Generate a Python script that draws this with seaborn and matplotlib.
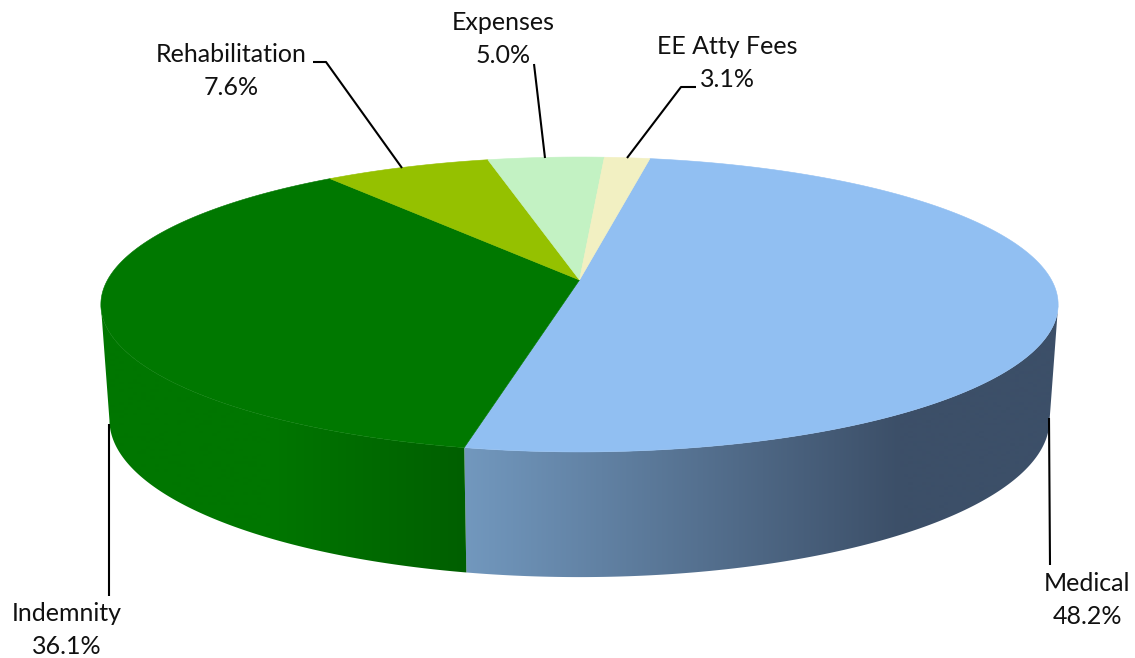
import numpy as np
import matplotlib
matplotlib.use("Agg")
import matplotlib.pyplot as plt
from matplotlib.colors import to_rgb
from matplotlib.patches import Polygon
import seaborn as sns

categories = ["Medical", "Indemnity", "Rehabilitation", "Expenses", "EE Atty Fees"]
printed_pct = [48.2, 36.1, 7.6, 5.0, 3.1]
# angular share each slice occupies as drawn in the picture (the 3-D view skews them)
drawn_share = [50.5, 36.5, 6.6, 4.6, 1.8]
top_colors = ["#91BFF2", "#007800", "#95C100", "#C3F2C3", "#F2F0C2"]
wall_from = ["#7298BE", "#005F00"]
wall_to = ["#3C4F68", "#007600"]
wall_span = [(465, 900), (465, 270)]
label_xy = [(1087, 600), (67, 630), (231, 71), (503, 39), (727, 63)]
leaders = [[(1049, 418), (1050, 565)],
           [(109, 424), (109, 596)],
           [(313, 62), (326, 62), (402, 168)],
           [(534, 64), (545, 158)],
           [(696, 87), (681, 87), (627, 158)]]
START_ANGLE = 80.0
CX = 579.5
K = 0.166

sns.set_theme(style="white")
plt.rcParams["font.family"] = ["Lato", "DejaVu Sans"]


def project(theta_deg, a, b, apex_y):
    t = np.radians(theta_deg)
    d = 1 + K * np.sin(t)
    return CX + a * np.cos(t) / d, apex_y - b * np.sin(t) / d


def top_disk(theta):
    return project(theta, 472.0, 143.4, 280.0)


def bottom_disk(theta):
    return project(theta, 463.5, 152.7, 394.0)


fig, ax = plt.subplots(figsize=(11.35, 6.58), dpi=100)
fig.subplots_adjust(0, 0, 1, 1)
ax.axis("off")

sweeps = np.array(drawn_share) / sum(drawn_share) * 360.0
ends = START_ANGLE - np.cumsum(sweeps)
starts = ends + sweeps

# side wall: the part of the rim facing the viewer, filled with a horizontal gradient
sil_left = 180 + np.degrees(np.arcsin(K))
sil_right = 360 - np.degrees(np.arcsin(K))
for i in range(2):
    thetas = np.linspace(starts[i], ends[i], 400)
    wrapped = thetas % 360
    thetas = thetas[(wrapped >= sil_left) & (wrapped <= sil_right)]
    xa, ya = top_disk(thetas)
    xb, yb = bottom_disk(thetas)
    outline = np.column_stack([np.r_[xa, xb[::-1]], np.r_[ya, yb[::-1]]])
    xgrid = np.arange(0, 1136)
    x0, x1 = wall_span[i]
    f = np.clip((xgrid - x0) / (x1 - x0), 0, 1)[None, :, None]
    c0 = np.array(to_rgb(wall_from[i]))[None, None, :]
    c1 = np.array(to_rgb(wall_to[i]))[None, None, :]
    img = ax.imshow(c0 + (c1 - c0) * f, extent=(0, 1135, 658, 0),
                    aspect="auto", zorder=2, interpolation="bilinear")
    patch = Polygon(outline, closed=True, transform=ax.transData, fc="none", ec="none")
    ax.add_patch(patch)
    img.set_clip_path(patch)

# top face
for i, (s, e) in enumerate(zip(starts, ends)):
    thetas = np.linspace(s, e, 200)
    xs, ys = top_disk(thetas)
    ax.fill(np.r_[CX, xs], np.r_[280.0, ys], color=top_colors[i], lw=0.4, zorder=3)

# leader lines and labels
for name, pct, (lx, ly), pts in zip(categories, printed_pct, label_xy, leaders):
    px, py = zip(*pts)
    ax.plot(px, py, color="black", lw=1.5, zorder=4, solid_capstyle="butt")
    ax.text(lx, ly, f"{name}\n{pct:.1f}%", ha="center", va="center", fontsize=18,
            color="#111111", linespacing=1.57, zorder=5)

ax.set_xlim(0, 1135)
ax.set_ylim(658, 0)
fig.savefig("out.png", dpi=100)
